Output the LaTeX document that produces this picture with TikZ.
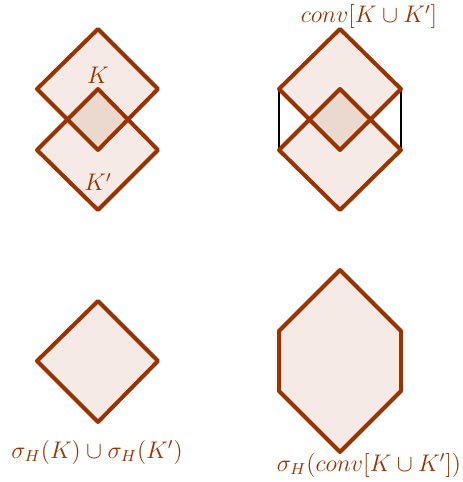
\documentclass[tikz,border=0pt]{standalone}
\definecolor{geo}{HTML}{993300}
\tikzset{
  shapefill/.style={fill=geo, fill opacity=0.1, draw=none},
  shapeedge/.style={draw=geo, line width=2pt, line join=round},
  lbl/.style={text=geo, font=\fontsize{11.5}{13}\selectfont, inner sep=0pt},
}
\begin{document}
\begin{tikzpicture}[x=0.5pt, y=-0.5pt]
\useasboundingbox (0,0) rectangle (462,482);
% top-left
\coordinate (ka) at (98,29);  \coordinate (kb) at (158,89);
\coordinate (kc) at (98,150); \coordinate (kd) at (37,89);
\coordinate (pa) at (98,89);  \coordinate (pb) at (158,150);
\coordinate (pc) at (98,210); \coordinate (pd) at (37,150);
\fill[shapefill] (ka)--(kb)--(kc)--(kd)--cycle;
\fill[shapefill] (pa)--(pb)--(pc)--(pd)--cycle;
\draw[shapeedge] (ka)--(kb)--(kc)--(kd)--cycle;
\draw[shapeedge] (pa)--(pb)--(pc)--(pd)--cycle;
\node[lbl] (lk) at (98,75) {$K$};
\node[lbl] (lkp) at (98,182) {$K'$};
% top-right
\coordinate (ra) at (340,29);  \coordinate (rb) at (401,89);
\coordinate (rc) at (340,150); \coordinate (rd) at (279,89);
\coordinate (sa) at (340,89);  \coordinate (sb) at (401,150);
\coordinate (sc) at (340,210); \coordinate (sd) at (279,150);
\fill[shapefill] (ra)--(rb)--(rc)--(rd)--cycle;
\fill[shapefill] (sa)--(sb)--(sc)--(sd)--cycle;
\draw[black, line width=0.8pt] (rd)--(sd);
\draw[black, line width=0.8pt] (rb)--(sb);
\draw[shapeedge] (ra)--(rb)--(rc)--(rd)--cycle;
\draw[shapeedge] (sa)--(sb)--(sc)--(sd)--cycle;
\node[lbl] (lconv) at (369,17) {$conv[K\cup K']$};
% bottom-left
\coordinate (ta) at (98,301);  \coordinate (tb) at (158,361);
\coordinate (tc) at (98,422);  \coordinate (td) at (37,361);
\fill[shapefill] (ta)--(tb)--(tc)--(td)--cycle;
\draw[shapeedge] (ta)--(tb)--(tc)--(td)--cycle;
\node[lbl] (lsig) at (97,452) {$\sigma_H(K)\cup\sigma_H(K')$};
% bottom-right
\coordinate (ha) at (340,270); \coordinate (hb) at (401,331);
\coordinate (hc) at (401,391); \coordinate (hd) at (340,452);
\coordinate (he) at (279,391); \coordinate (hf) at (279,331);
\fill[shapefill] (ha)--(hb)--(hc)--(hd)--(he)--(hf)--cycle;
\draw[shapeedge] (ha)--(hb)--(hc)--(hd)--(he)--(hf)--cycle;
\node[lbl] (lsc) at (369,465) {$\sigma_H(conv[K\cup K'])$};
\end{tikzpicture}
\end{document}
